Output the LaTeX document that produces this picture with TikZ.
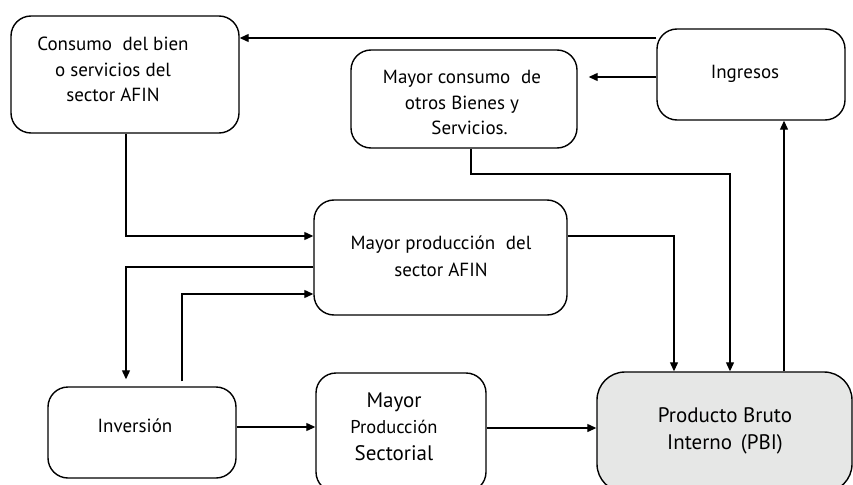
\documentclass[tikz,border=0pt]{standalone}
\usepackage{fontspec}
\setmainfont{PT Sans}
\usetikzlibrary{arrows.meta}
\definecolor{pbigray}{HTML}{E6E7E6}
\tikzset{
  box/.style={draw=black, line width=1.4pt, rounded corners=20pt, fill=white, inner sep=0pt},
  txt/.style={align=center, inner sep=0pt, font=\fontsize{19}{25.5}\selectfont},
  arr/.style={line width=1.2pt, -{Triangle[length=9pt,width=8pt]}},
}
\begin{document}
\begin{tikzpicture}[x=1pt,y=-1pt]
\useasboundingbox (0,0) rectangle (853,484);
% boxes
\node[box, minimum width=228pt, minimum height=117pt] (A) at (125,74.5) {};
\node[box, minimum width=226pt, minimum height=98pt] (B) at (464,99) {};
\node[box, minimum width=188pt, minimum height=91pt] (C) at (751,74.5) {};
\node[box, minimum width=253pt, minimum height=115pt] (D) at (440.5,257.5) {};
\node[box, minimum width=188pt, minimum height=91pt] (E) at (142,432.5) {};
\node[box, minimum width=170pt, minimum height=119pt] (F) at (401,432.5) {};
\node[box, fill=pbigray, rounded corners=28pt, minimum width=255pt, minimum height=120pt] (G) at (724.5,432) {};
% texts
\node[txt] (At) at (113,69.5) {Consumo\hspace{0.3em} del bien\\o servicios del\\sector AFIN};
\node[txt] (Bt) at (462,102.5) {Mayor consumo\hspace{0.3em} de\\otros Bienes y\\\hspace{0.8em}Servicios.};
\node[txt] (Ct) at (745,74) {Ingresos};
\node[txt, font=\fontsize{19}{27}\selectfont] (Dt) at (441,256.5) {Mayor producción\hspace{0.3em} del\\sector AFIN};
\node[txt] (Et) at (135,426) {Inversión};
\node[txt, font=\fontsize{21}{26.5}\selectfont] (Ft) at (394,426.5) {Mayor\\{\fontsize{18.5}{26.5}\selectfont Producción}\\Sectorial};
\node[txt, font=\fontsize{21}{27}\selectfont] (Gt) at (725,430.5) {Producto Bruto\\Interno\hspace{0.15em} (PBI)};
% helper coordinates
\coordinate (r1) at (0,38);
\coordinate (r2) at (0,77);
\coordinate (p3) at (471,174);
\coordinate (q3) at (730,174);
\coordinate (p4) at (674,236);
\coordinate (p5) at (784,0);
\coordinate (p6) at (126,236);
\coordinate (p7) at (126,267);
\coordinate (p8) at (182,294);
\coordinate (r9) at (0,427);
\coordinate (r10) at (0,428);
% connectors
\draw[arr] (C.west |- r1) -- (A.east |- r1);
\draw[arr, shorten >=11pt] (C.west |- r2) -- (B.east |- r2);
\draw[arr] (B.south -| p3) -- (p3) -- (q3) -- (q3 |- G.north);
\draw[arr] (D.east |- p4) -- (p4) -- (p4 |- G.north);
\draw[arr] (G.north -| p5) -- (C.south -| p5);
\draw[arr] (A.south -| p6) -- (p6) -- (D.west |- p6);
\draw[arr, shorten >=7pt] (D.west |- p7) -- (p7) -- (p7 |- E.north);
\draw[arr, shorten <=5pt] (E.north -| p8) -- (p8) -- (D.west |- p8);
\draw[arr] (E.east |- r9) -- (F.west |- r9);
\draw[arr] (F.east |- r10) -- (G.west |- r10);
\end{tikzpicture}
\end{document}
